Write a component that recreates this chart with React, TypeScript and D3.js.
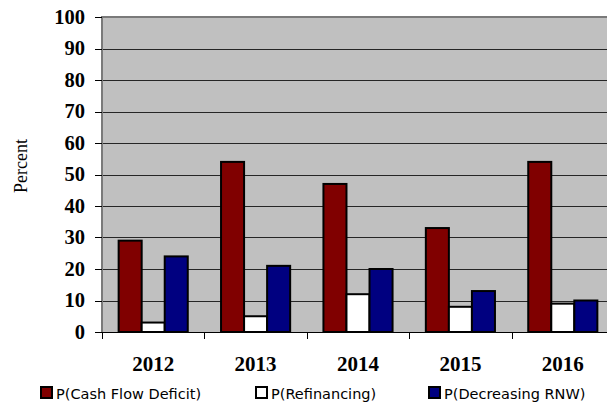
import { useEffect, useRef } from "react"
import * as d3 from "d3"

const years = ["2012", "2013", "2014", "2015", "2016"]
const seriesNames = ["P(Cash Flow Deficit)", "P(Refinancing)", "P(Decreasing RNW)"]
const seriesColors = ["#800000", "#FFFFFF", "#000080"]
const cashFlowDeficit = [29, 54, 47, 33, 54]
const refinancing = [3, 5, 12, 8, 9]
const decreasingRnw = [24, 21, 20, 13, 10]
const yTicks = [0, 10, 20, 30, 40, 50, 60, 70, 80, 90, 100]
const legendX = [40, 255, 428]

export default function App() {
  const svgRef = useRef<SVGSVGElement | null>(null)

  useEffect(() => {
    document.body.style.margin = "0"
    if (!svgRef.current) return

    const width = 607
    const height = 404
    const plot = { left: 102, right: 614, top: 17, bottom: 332 }

    const svg = d3.select(svgRef.current).attr("width", width).attr("height", height)
    svg.selectAll("*").remove()

    const values = [cashFlowDeficit, refinancing, decreasingRnw]

    const x0 = d3.scaleBand<string>().domain(years).range([plot.left, plot.right])
    const bw = x0.bandwidth()
    const gap = bw * 0.325
    const x1 = d3
      .scaleBand<string>()
      .domain(seriesNames)
      .range([gap / 2, bw - gap / 2])
    const y = d3.scaleLinear().domain([0, 100]).range([plot.bottom, plot.top])

    // plot background
    svg
      .append("rect")
      .attr("x", plot.left)
      .attr("y", plot.top)
      .attr("width", plot.right - plot.left)
      .attr("height", plot.bottom - plot.top)
      .attr("fill", "#C0C0C0")

    // gridlines
    svg
      .append("g")
      .selectAll("line")
      .data(yTicks.filter(t => t > 0 && t < 100))
      .join("line")
      .attr("x1", plot.left)
      .attr("x2", plot.right)
      .attr("y1", d => Math.round(y(d)) + 0.5)
      .attr("y2", d => Math.round(y(d)) + 0.5)
      .attr("stroke", "#262626")
      .attr("stroke-width", 1)

    // plot border (left + top)
    svg
      .append("path")
      .attr("d", `M${plot.left},${plot.bottom} V${plot.top} H${plot.right}`)
      .attr("fill", "none")
      .attr("stroke", "#7a7a7a")
      .attr("stroke-width", 2)

    // bars
    const groups = svg
      .append("g")
      .selectAll("g")
      .data(years)
      .join("g")
      .attr("transform", d => `translate(${x0(d)},0)`)

    groups
      .selectAll("rect")
      .data((_, i) => seriesNames.map((s, k) => ({ s, k, v: values[k][i] })))
      .join("rect")
      .attr("x", d => x1(d.s) ?? 0)
      .attr("y", d => y(d.v))
      .attr("width", x1.bandwidth())
      .attr("height", d => plot.bottom - y(d.v))
      .attr("fill", d => seriesColors[d.k])
      .attr("stroke", "#000")
      .attr("stroke-width", 2)

    // x axis
    svg
      .append("line")
      .attr("x1", plot.left)
      .attr("x2", plot.right)
      .attr("y1", plot.bottom + 0.5)
      .attr("y2", plot.bottom + 0.5)
      .attr("stroke", "#000")

    svg
      .append("g")
      .selectAll("line")
      .data(years)
      .join("line")
      .attr("x1", d => Math.round(x0(d) ?? 0) + 0.5)
      .attr("x2", d => Math.round(x0(d) ?? 0) + 0.5)
      .attr("y1", plot.bottom)
      .attr("y2", plot.bottom + 7)
      .attr("stroke", "#000")

    svg
      .append("g")
      .selectAll("text")
      .data(years)
      .join("text")
      .attr("x", d => (x0(d) ?? 0) + bw / 2)
      .attr("y", 371)
      .attr("text-anchor", "middle")
      .attr("font-family", "'Liberation Serif', 'Times New Roman', serif")
      .attr("font-weight", "bold")
      .attr("font-size", 21)
      .text(d => d)

    // y axis
    svg
      .append("g")
      .selectAll("line")
      .data(yTicks)
      .join("line")
      .attr("x1", plot.left - 7)
      .attr("x2", plot.left)
      .attr("y1", d => Math.round(y(d)) + 0.5)
      .attr("y2", d => Math.round(y(d)) + 0.5)
      .attr("stroke", "#000")

    svg
      .append("g")
      .selectAll("text")
      .data(yTicks)
      .join("text")
      .attr("x", 85)
      .attr("y", d => y(d))
      .attr("dy", "0.33em")
      .attr("text-anchor", "end")
      .attr("font-family", "'Liberation Serif', 'Times New Roman', serif")
      .attr("font-weight", "bold")
      .attr("font-size", 20.5)
      .text(d => d)

    svg
      .append("text")
      .attr("transform", `translate(27,166) rotate(-90)`)
      .attr("text-anchor", "middle")
      .attr("font-family", "'Liberation Serif', 'Times New Roman', serif")
      .attr("font-size", 18)
      .text("Percent")

    // legend
    const legend = svg
      .append("g")
      .selectAll("g")
      .data(seriesNames)
      .join("g")
      .attr("transform", (_, i) => `translate(${legendX[i]},387)`)

    legend
      .append("rect")
      .attr("x", 1)
      .attr("y", 0)
      .attr("width", 11)
      .attr("height", 11)
      .attr("fill", (_, i) => seriesColors[i])
      .attr("stroke", "#000")
      .attr("stroke-width", 2)

    legend
      .append("text")
      .attr("x", 16)
      .attr("y", 12)
      .attr("font-family", "'DejaVu Sans', Verdana, sans-serif")
      .attr("font-size", 14.5)
      .text(d => d)
  }, [])

  return (
    <div>
      <svg ref={svgRef} style={{ display: "block" }} />
    </div>
  )
}
